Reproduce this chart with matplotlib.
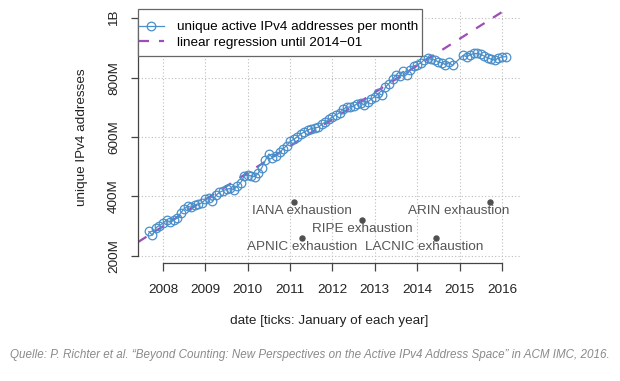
import numpy as np
import matplotlib
matplotlib.use("Agg")
import matplotlib.pyplot as plt
from matplotlib.patches import Rectangle

plt.rcParams["font.family"] = ["Liberation Sans", "DejaVu Sans"]

# monthly unique active IPv4 addresses (millions), starting 2007-09
start_year, start_month = 2007, 9
active_m = [
    282, 270, 295, 302, 310, 321, 313, 322, 327, 344,
    359, 367, 363, 372, 375, 378, 390, 395, 386, 404,
    414, 419, 424, 427, 423, 435, 446, 469, 472, 469,
    466, 479, 497, 522, 543, 531, 537, 548, 560, 571,
    585, 592, 600, 610, 617, 624, 628, 631, 633, 643,
    651, 660, 668, 674, 682, 693, 701, 701, 704, 712,
    715, 707, 718, 728, 736, 747, 741, 768, 780, 795,
    809, 806, 821, 810, 826, 839, 843, 849, 860, 866,
    861, 860, 852, 850, 843, 851, 841, np.nan, np.nan, 875,
    870, 877, 881, 881, 878, 872, 866, 862, 858, 866,
    870, 870,
]
regression_until = 2014.0  # 2014-01

events = ["IANA", "APNIC", "RIPE", "LACNIC", "ARIN"]
event_dates = [2011.09, 2011.29, 2012.70, 2014.44, 2015.71]
event_y_m = [380, 260, 320, 260, 380]
# label anchor (x in years) - labels shifted so they stay inside the plot
event_label_x = [2011.28, 2011.28, 2012.70, 2014.17, 2014.97]

year_ticks = list(range(2008, 2017))
y_ticks_m = [200, 400, 600, 800, 1000]
y_tick_labels = ["200M", "400M", "600M", "800M", "1B"]

# ---- data prep
vals = np.array(active_m, dtype=float)
t = start_year + (start_month - 1) / 12 + np.arange(len(vals)) / 12
ok = ~np.isnan(vals)
t, vals = t[ok], vals[ok]
fit = t < regression_until + 1e-6
slope, icpt = np.polyfit(t[fit], vals[fit], 1)

BLUE = "#4a8fc9"
PURPLE = "#a04cb8"
GREY = "#555555"
W, H = 620, 381

fig = plt.figure(figsize=(6.2, 3.81), dpi=100)
ax = fig.add_axes([138 / W, 118 / H, 382 / W, 252 / H])
ax.set_xlim(2007.41, 2016.425)
ax.set_ylim(176, 1024)

for yr in year_ticks:
    ax.axvline(yr, color="#bdbdbd", lw=0.8, ls=(0, (1, 2)), zorder=0)
for v in y_ticks_m:
    ax.axhline(v, color="#bdbdbd", lw=0.8, ls=(0, (1, 2)), zorder=0)

xx = np.array(ax.get_xlim())
ax.plot(xx, icpt + slope * xx, color=PURPLE, lw=1.6, ls=(0, (4.5, 4.5)),
        zorder=2, label="linear regression until 2014\u221201")
ax.plot(t, vals, color=BLUE, lw=0.9, marker="o", ms=6.2, mfc="none",
        mec=BLUE, mew=0.9, zorder=3,
        label="unique active IPv4 addresses per month")

for name, d, v, lx in zip(events, event_dates, event_y_m, event_label_x):
    ax.plot(d, v, "o", color="#505050", ms=3.6, zorder=4)
    ax.text(lx, v - 10, f"{name} exhaustion", ha="center", va="top",
            fontsize=9.7, color=GREY)

for s in ("top", "right"):
    ax.spines[s].set_visible(False)
ax.spines["left"].set_bounds(200, 1000)
ax.spines["bottom"].set_bounds(2008, 2016)
for s in ("left", "bottom"):
    ax.spines[s].set_color("#444444")
    ax.spines[s].set_linewidth(0.9)

ax.set_xticks(year_ticks)
ax.set_xticklabels([str(y) for y in year_ticks])
ax.set_yticks(y_ticks_m)
ax.set_yticklabels(y_tick_labels, rotation=90, va="center")
ax.tick_params(axis="x", length=5.8, width=0.9, color="#444444", pad=9,
               labelsize=9.7, labelcolor="#222222")
ax.tick_params(axis="y", length=5.0, width=0.9, color="#444444", pad=8,
               labelsize=9.7, labelcolor="#222222")

ax.set_xlabel("date [ticks: January of each year]", fontsize=9.7,
              color="#222222", labelpad=14)
ax.set_ylabel("unique IPv4 addresses", fontsize=9.7, color="#222222",
              labelpad=14)

# legend: R-style box, drawn by hand so the padding can differ per side
box = Rectangle((138 / W, 1 - 56 / H), 284 / W, 47 / H,
                transform=fig.transFigure, facecolor="white",
                edgecolor="#666666", lw=0.9, zorder=5)
fig.add_artist(box)
h, l = ax.get_legend_handles_labels()
leg = fig.legend(h[::-1], l[::-1], loc="upper left",
                 bbox_to_anchor=(139 / W, 1 - 21 / H), fontsize=9.7,
                 frameon=False, borderpad=0, handlelength=1.85,
                 handletextpad=1.0, borderaxespad=0, labelspacing=0.2)
leg.set_zorder(6)

fig.text(0.5, 26 / H,
         "Quelle: P. Richter et al. \u201cBeyond Counting: New Perspectives on "
         "the Active IPv4 Address Space\u201d in ACM IMC, 2016.",
         ha="center", va="center", fontsize=8.4, style="italic",
         color="#8a8a8a")

fig.savefig("out.png", dpi=100, facecolor="white")
